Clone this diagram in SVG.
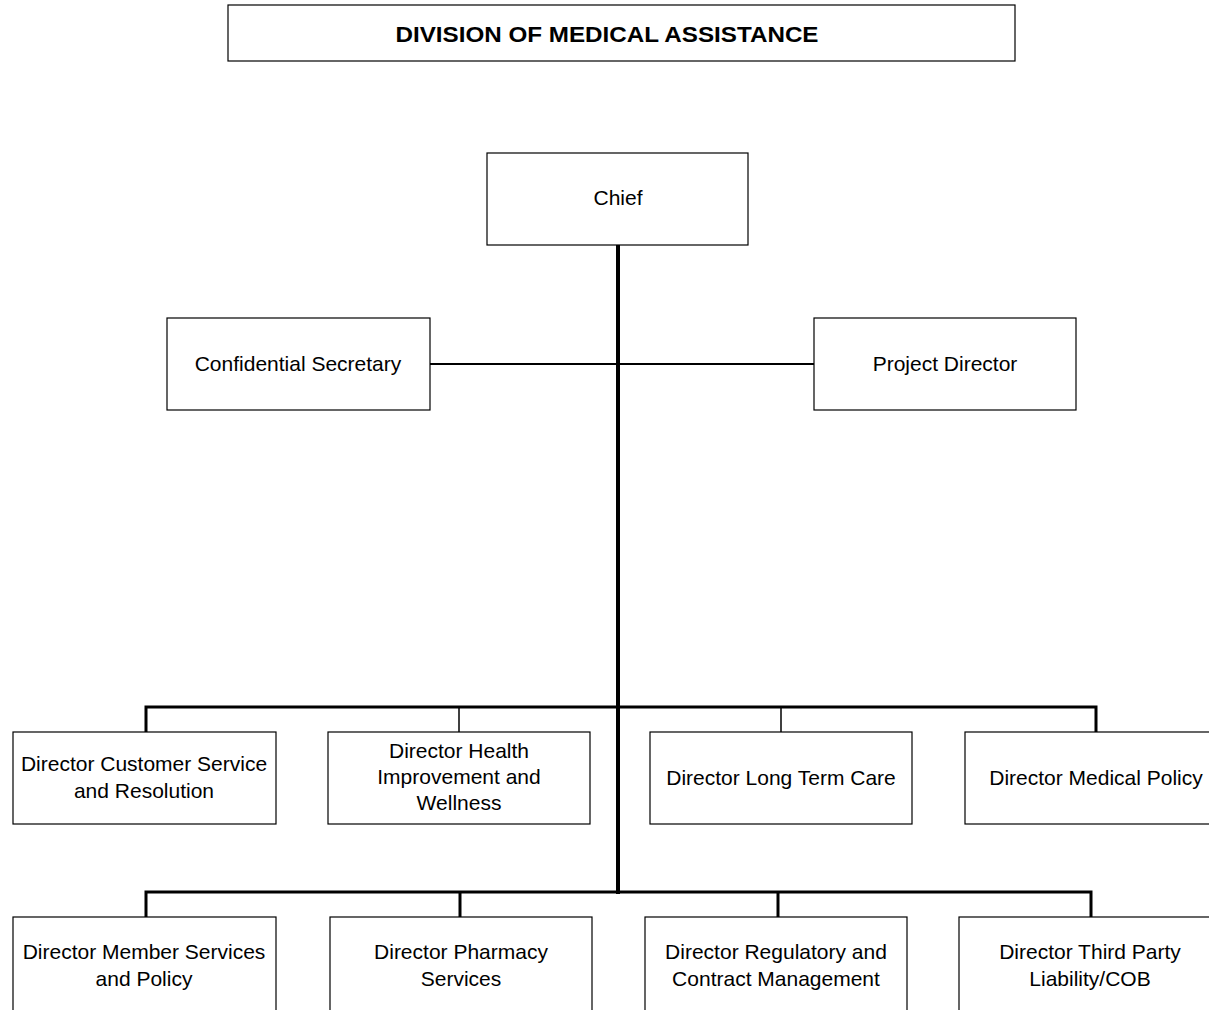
<svg xmlns="http://www.w3.org/2000/svg" width="1209" height="1010" viewBox="0 0 1209 1010">
<style>
.box{fill:#fff;stroke:#000;stroke-width:1.2}
.t{font-family:"Liberation Sans",Arial,sans-serif;font-size:21px;fill:#000;text-anchor:middle}
.title{font-family:"Liberation Sans",Arial,sans-serif;font-size:22px;font-weight:bold;fill:#000;text-anchor:middle}
.thick{stroke:#000;stroke-width:4;fill:none}
.med{stroke:#000;stroke-width:3;fill:none}
.mid{stroke:#000;stroke-width:2.2;fill:none}
.thin{stroke:#000;stroke-width:1.5;fill:none}
</style>
<rect width="1209" height="1010" fill="#fff"/>
<g id="connectors">
<line class="thick" x1="618" y1="245" x2="618" y2="894"/>
<line class="mid" x1="430" y1="364" x2="814" y2="364"/>
<polyline class="med" points="146,732 146,707 1096,707 1096,732"/>
<line class="thin" x1="459" y1="707" x2="459" y2="732"/>
<line class="thin" x1="781" y1="707" x2="781" y2="732"/>
<polyline class="med" points="146,917 146,892 1091,892 1091,917"/>
<line class="med" x1="460" y1="892" x2="460" y2="917"/>
<line class="med" x1="778" y1="892" x2="778" y2="917"/>
</g>
<g id="title"><rect class="box" x="228" y="5" width="787" height="56"/><text class="title" x="607" y="42" textLength="423" lengthAdjust="spacingAndGlyphs">DIVISION OF MEDICAL ASSISTANCE</text></g>
<g id="chief"><rect class="box" x="487" y="153" width="261" height="92"/><text class="t" x="618" y="205">Chief</text></g>
<g id="secretary"><rect class="box" x="167" y="318" width="263" height="92"/><text class="t" x="298" y="371">Confidential Secretary</text></g>
<g id="project"><rect class="box" x="814" y="318" width="262" height="92"/><text class="t" x="945" y="371">Project Director</text></g>
<g id="customer"><rect class="box" x="13" y="732" width="263" height="92"/><text class="t" x="144" y="771">Director Customer Service</text><text class="t" x="144" y="798">and Resolution</text></g>
<g id="health"><rect class="box" x="328" y="732" width="262" height="92"/><text class="t" x="459" y="758">Director Health</text><text class="t" x="459" y="784">Improvement and</text><text class="t" x="459" y="810">Wellness</text></g>
<g id="longterm"><rect class="box" x="650" y="732" width="262" height="92"/><text class="t" x="781" y="785">Director Long Term Care</text></g>
<g id="medpolicy"><rect class="box" x="965" y="732" width="262" height="92"/><text class="t" x="1096" y="785">Director Medical Policy</text></g>
<g id="member"><rect class="box" x="13" y="917" width="263" height="100"/><text class="t" x="144" y="959">Director Member Services</text><text class="t" x="144" y="986">and Policy</text></g>
<g id="pharmacy"><rect class="box" x="330" y="917" width="262" height="100"/><text class="t" x="461" y="959">Director Pharmacy</text><text class="t" x="461" y="986">Services</text></g>
<g id="regulatory"><rect class="box" x="645" y="917" width="262" height="100"/><text class="t" x="776" y="959">Director Regulatory and</text><text class="t" x="776" y="986">Contract Management</text></g>
<g id="thirdparty"><rect class="box" x="959" y="917" width="262" height="100"/><text class="t" x="1090" y="959">Director Third Party</text><text class="t" x="1090" y="986">Liability/COB</text></g>
</svg>
